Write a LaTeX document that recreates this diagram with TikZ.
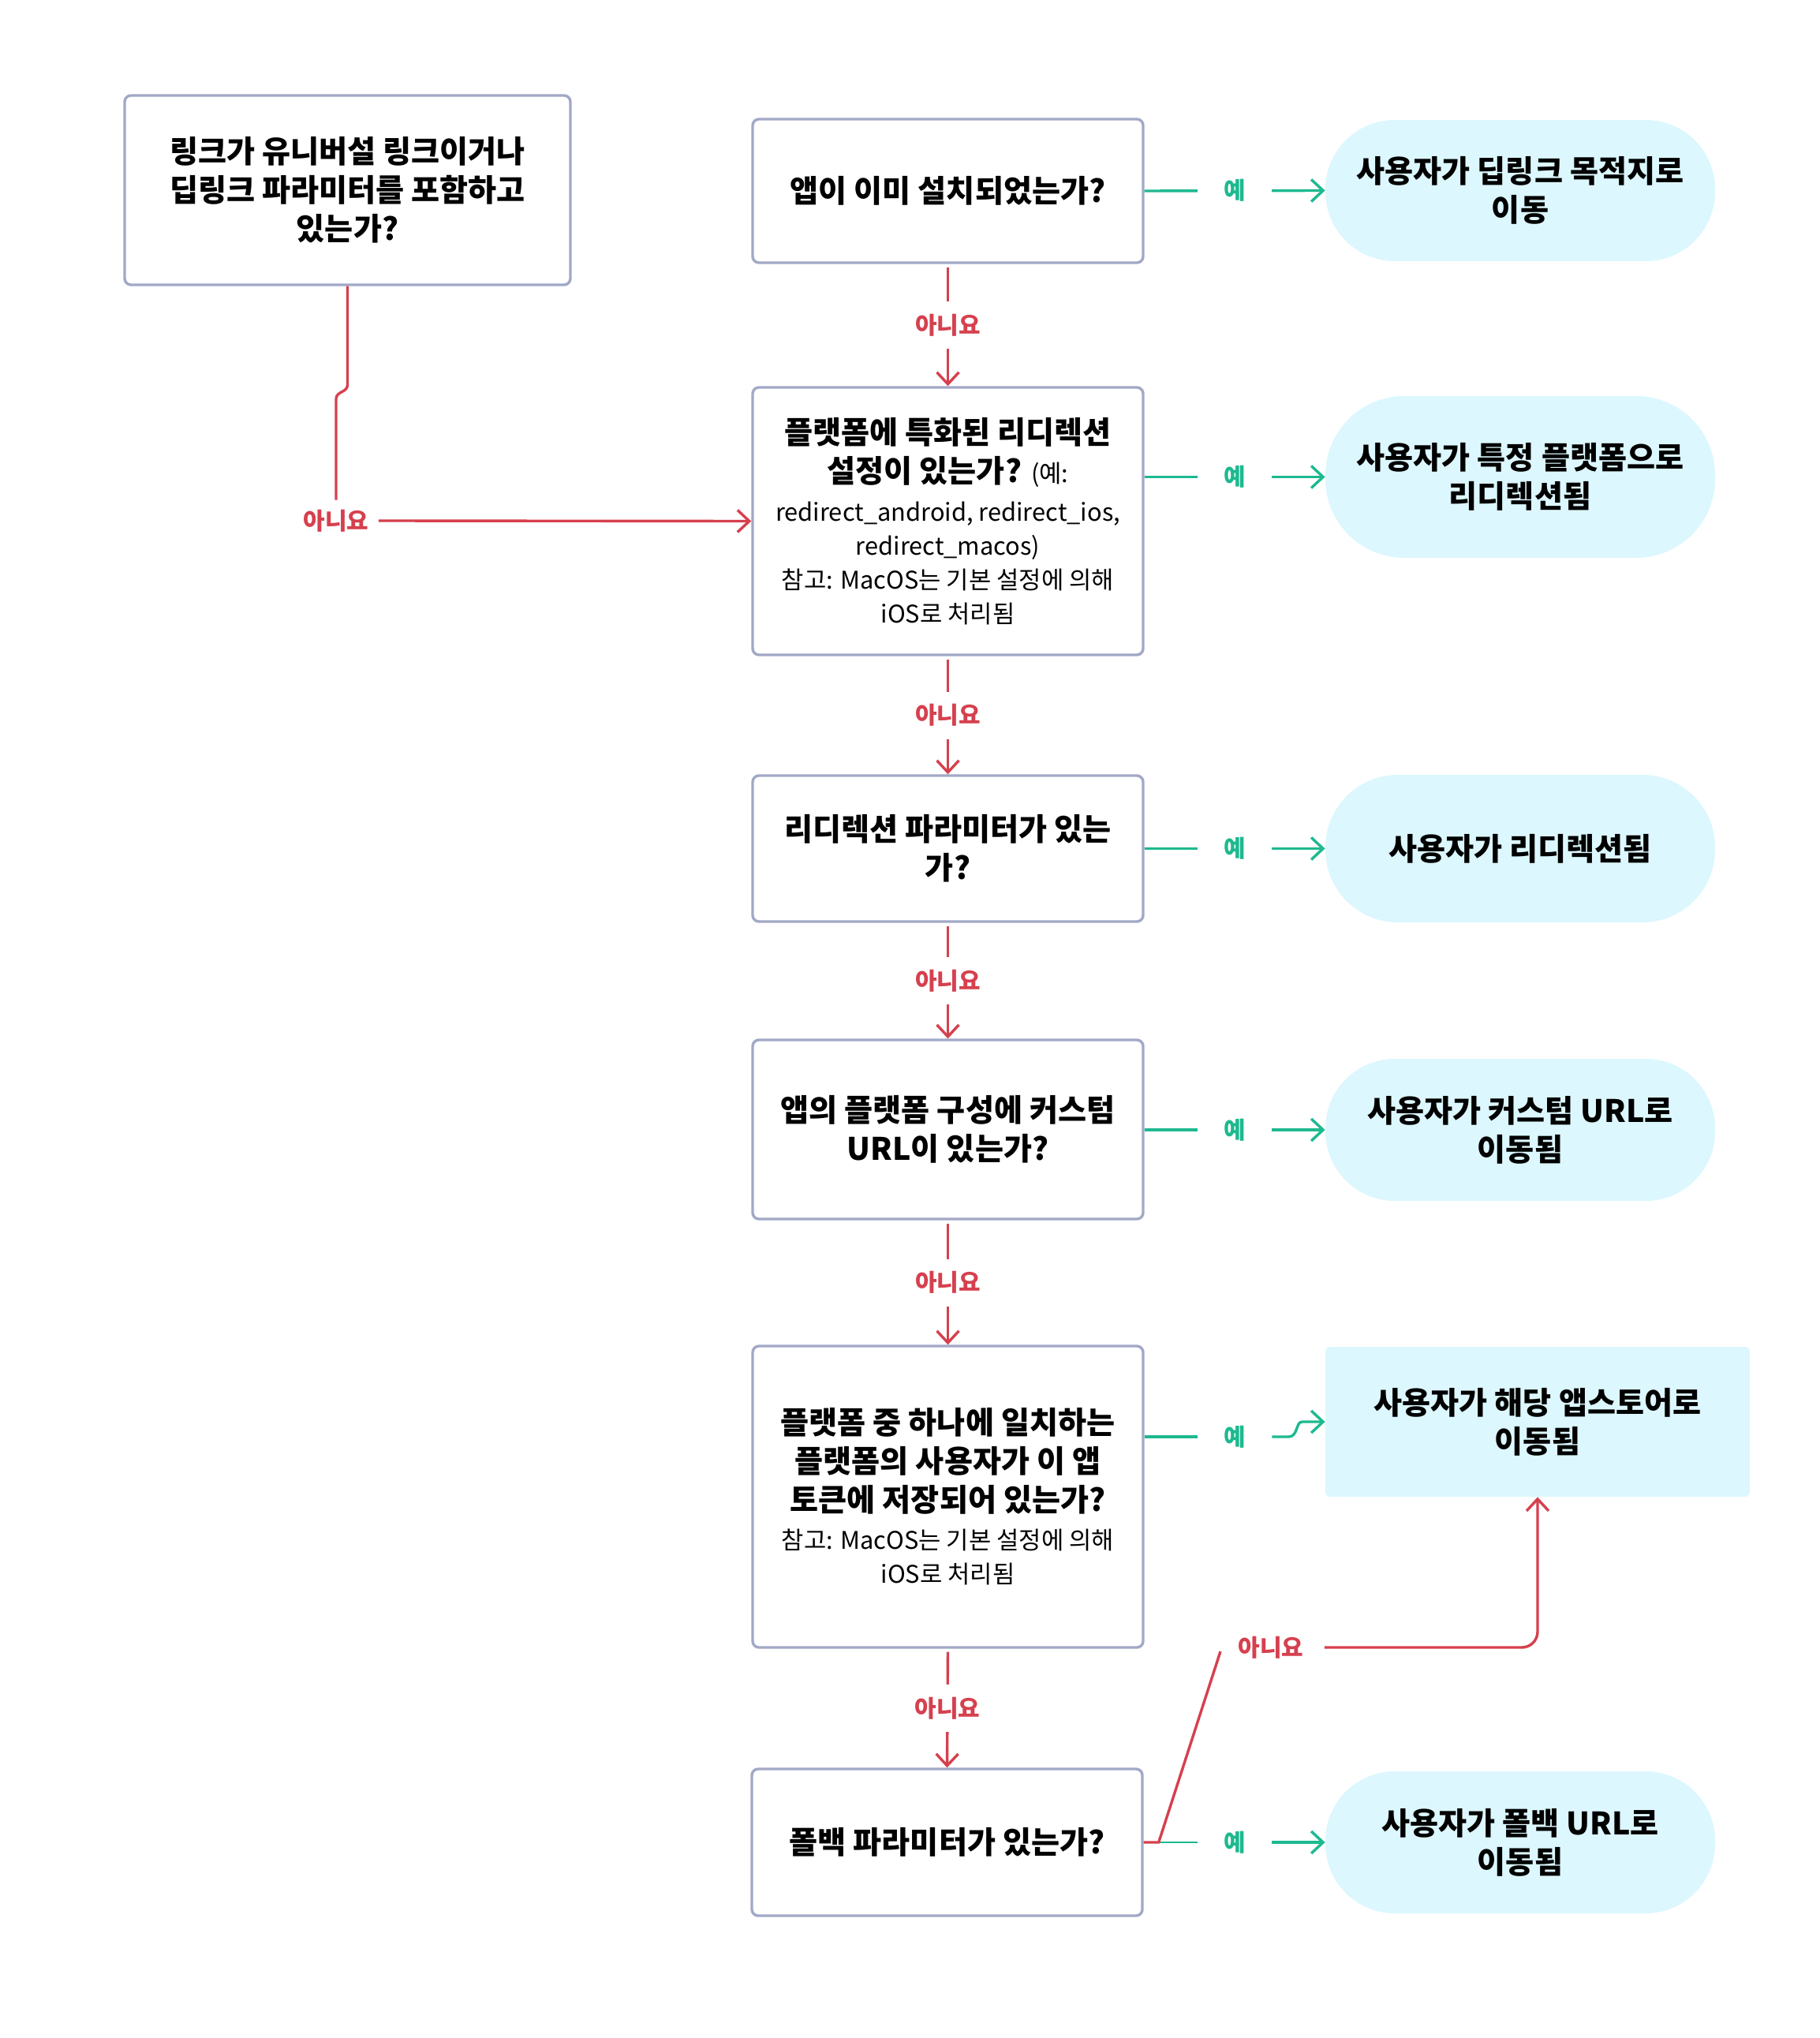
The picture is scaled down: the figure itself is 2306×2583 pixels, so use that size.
\documentclass[tikz,border=0pt]{standalone}
\usepackage{fontspec}
\setmainfont{Noto Sans CJK KR}
\usetikzlibrary{arrows.meta}
\definecolor{bxline}{HTML}{A2A8C6}
\definecolor{nored}{HTML}{D6404E}
\definecolor{yesgreen}{HTML}{1DB98F}
\definecolor{termfill}{HTML}{DCF7FD}
\newcommand\snote{\mdseries\fontsize{15.4}{21.5}\selectfont}
\begin{document}
\begin{tikzpicture}[x=0.5pt,y=-0.5pt,
  qbox/.style={draw=bxline, line width=1.7pt, rounded corners=4pt, fill=white, align=center,
    minimum width=247.5pt, inner sep=0pt, font=\bfseries\fontsize{19.6}{24.5}\selectfont},
  term/.style={fill=termfill, align=center, minimum width=247pt, inner sep=0pt,
    font=\bfseries\fontsize{19.6}{24.5}\selectfont},
  ylab/.style={fill=white, text=yesgreen, minimum width=47pt, inner sep=0pt,
    font=\bfseries\fontsize{15}{17}\selectfont},
  nlabv/.style={fill=white, text=nored, minimum height=30pt, inner sep=0pt,
    font=\bfseries\fontsize{15}{17}\selectfont},
  nlab/.style={text=nored, inner sep=6pt, font=\bfseries\fontsize{15}{17}\selectfont},
  yesline/.style={draw=yesgreen, line width=1.7pt},
  yesarrow/.style={draw=yesgreen, line width=1.7pt, -{Straight Barb[length=7.5pt,width=14pt]}},
  noline/.style={draw=nored, line width=1.7pt},
  noarrow/.style={draw=nored, line width=1.7pt, -{Straight Barb[length=7.5pt,width=14pt]}},
]
\useasboundingbox (0,0) rectangle (2306,2583);

% question boxes
\node[qbox, minimum width=282.5pt, minimum height=120pt] (A) at (440.5,241)
  {링크가 유니버설 링크이거나\\딥링크 파라미터를 포함하고\\있는가?};
\node[qbox, minimum height=91pt] (B) at (1201.5,242) {앱이 이미 설치되었는가?};
\node[qbox, minimum height=169.5pt] (C) at (1201.5,660.5)
  {플랫폼에 특화된 리디렉션\\
   설정이 있는가? {\snote (예:}\\
   {\snote redirect\_android, redirect\_ios,}\\[-3pt]
   {\snote redirect\_macos)}\\[-3pt]
   {\snote 참고: MacOS는 기본 설정에 의해}\\[-3pt]
   {\snote iOS로 처리됨}};
\node[qbox, minimum height=92.5pt] (D) at (1201.5,1075.5) {리디렉션 파라미터가 있는\\가?};
\node[qbox, minimum height=113.5pt] (E) at (1201.5,1431.5) {앱의 플랫폼 구성에 커스텀\\URL이 있는가?};
\node[qbox, minimum height=191pt] (F) at (1201.5,1897)
  {플랫폼 중 하나에 일치하는\\
   플랫폼의 사용자가 이 앱\\
   토큰에 저장되어 있는가?\\[-0.5pt]
   {\snote 참고: MacOS는 기본 설정에 의해}\\[-3pt]
   {\snote iOS로 처리됨}};
\node[qbox, minimum height=93pt] (G) at (1200.5,2335) {폴백 파라미터가 있는가?};

% terminal nodes
\node[term, minimum height=89.5pt, rounded corners=44pt] (T1) at (1927,241.5) {사용자가 딥링크 목적지로\\이동};
\node[term, minimum height=102.5pt, rounded corners=50pt] (T2) at (1927,604.5) {사용자가 특정 플랫폼으로\\리디렉션됨};
\node[term, minimum height=93.5pt, rounded corners=46pt] (T3) at (1927,1075.5) {사용자가 리디렉션됨};
\node[term, minimum height=90pt, rounded corners=44pt] (T4) at (1927,1432) {사용자가 커스텀 URL로\\이동됨};
\node[term, minimum width=269pt, minimum height=95pt, rounded corners=3pt] (T5) at (1949,1802) {사용자가 해당 앱스토어로\\이동됨};
\node[term, minimum height=90pt, rounded corners=44pt] (T6) at (1927,2335) {사용자가 폴백 URL로\\이동됨};

% yes connectors
\draw[yesarrow] (B.east) -- node[ylab] (Y1) {예} (T1.west);
\draw[yesarrow] (C.east |- T2.west) -- node[ylab] (Y2) {예} (T2.west);
\draw[yesarrow] (D.east) -- node[ylab] (Y3) {예} (T3.west);
\draw[yesarrow] (E.east |- T4.west) -- node[ylab] (Y4) {예} (T4.west);
\node[ylab] (Y5) at (1565,1821) {예};
\draw[yesline] (F.east |- Y5.west) -- (Y5.west);
\draw[yesarrow] (Y5.east) -- ++(21,0) .. controls +(12,0) and +(-8,0) .. ++(17,-19) -- (T5.west);
\node[ylab] (Y6) at (1565,2335) {예};
\draw[draw=yesgreen, line width=0.9pt] (G.east) -- (Y6.west);
\draw[yesarrow] (Y6.east) -- (T6.west);

% no connectors (vertical)
\draw[noarrow, shorten <=2pt] (B.south) -- node[nlabv] (N1) {아니요} (C.north);
\draw[noarrow, shorten <=2pt] (C.south) -- node[nlabv] (N2) {아니요} (D.north);
\draw[noarrow, shorten <=2pt] (D.south) -- node[nlabv] (N3) {아니요} (E.north);
\draw[noarrow, shorten <=2pt] (E.south) -- node[nlabv] (N4) {아니요} (F.north);
\draw[noarrow, shorten <=2pt] (F.south) -- node[nlabv] (N5) {아니요} (G.north);

% no from first box
\node[nlab] (N0) at (426,660) {아니요};
\draw[noline] (A.south) -- ++(0,125) .. controls +(0,10) and +(0,-10) .. ++(-14.5,18) -- (N0.north);
\draw[noarrow] (N0.east) -- (C.west);

% no from fallback box
\node[nlab, inner sep=0pt] (N6) at (1611,2088) {아니요};
\coordinate (K6) at (1547,2093);
\draw[noline] (G.east) -- ++(19,0) -- (K6);
\draw[noarrow, rounded corners=10pt, shorten <=13pt] (N6.east) -| (T5.south);
\end{tikzpicture}
\end{document}
